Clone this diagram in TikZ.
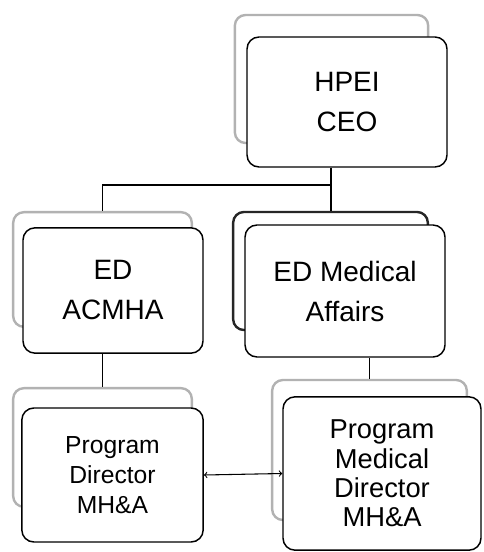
\documentclass[tikz,border=0pt]{standalone}
\usepackage{fontspec}
\setmainfont{Liberation Sans}
\usetikzlibrary{arrows}
\tikzset{front box/.style={rectangle,rounded corners=9pt,draw,line width=1.1pt,fill=white,inner sep=0pt,align=center,font=\fontsize{21}{30}\selectfont},
	back box/.style={rectangle,rounded corners=8pt,draw=gray!60,line width=1.8pt,fill=white,inner sep=0pt},
	link/.style={line width=1.1pt},
}

\begin{document}
\begin{tikzpicture}[x=0.75pt,y=-0.75pt]
		\useasboundingbox (0,0) rectangle (483,552);
		% back sheets
		\node[back box,minimum width=145pt,minimum height=96pt] (ceob) at (331.5,79) {};
		\node[back box,minimum width=134pt,minimum height=86pt] (acmhab) at (102.5,269.5) {};
		\node[back box,draw=black!85,minimum width=146pt,minimum height=88.5pt] (medaffb) at (330.5,271) {};
		\node[back box,minimum width=134pt,minimum height=89pt] (pdb) at (102.5,447.5) {};
		\node[back box,minimum width=146pt,minimum height=105pt] (pmdb) at (369.5,450) {};
		% front sheets
		\node[front box,minimum width=150pt,minimum height=97.5pt] (ceo) at (347,102) {HPEI\\CEO};
		\node[front box,minimum width=135pt,minimum height=94pt] (acmha) at (113,290.5) {ED\\ACMHA};
		\node[front box,minimum width=150pt,minimum height=99pt] (medaff) at (345,291) {ED Medical\\Affairs};
		\node[front box,minimum width=136pt,minimum height=100.5pt,font=\fontsize{18.5}{22.5}\selectfont] (pd) at (112.5,475) {Program\\Director\\MH\&A};
		\node[front box,minimum width=148.5pt,minimum height=115pt,font=\fontsize{20.5}{22}\selectfont] (pmd) at (382,473.5) {Program\\Medical\\Director\\MH\&A};
		
		\coordinate (bar) at (331,185);
		\draw[link] (ceo.south -| bar) -- (bar) -| (acmhab.north);
		\draw[link] (bar) -- (bar |- medaffb.north);
		\draw[link] (acmha.south -| pdb.north) -- (pdb.north);
		\draw[link] (medaff.south -| pmdb.north) -- (pmdb.north);
		\draw[<->,line width=0.8pt] (pd.east) -- (pmd.west);
	\end{tikzpicture}
\end{document}
